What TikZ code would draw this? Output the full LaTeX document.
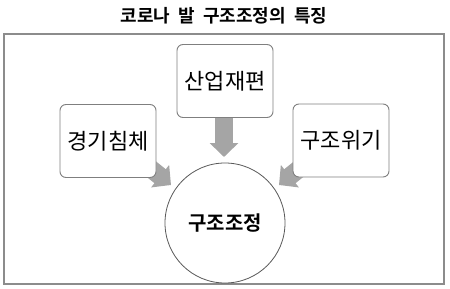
\documentclass[tikz,border=0pt]{standalone}
\usepackage{fontspec}
\setmainfont{Noto Sans CJK KR}[BoldFont={Noto Sans CJK KR Bold}]
\usetikzlibrary{arrows.meta}
\definecolor{boxgray}{HTML}{7F7F7F}
\definecolor{framegray}{HTML}{8C8C8C}
\definecolor{arrowgray}{HTML}{A5A5A5}
\definecolor{circlegray}{HTML}{595959}
\begin{document}
\begin{tikzpicture}[x=1pt,y=-1pt,
  box/.style={draw=boxgray, line width=0.9pt, rounded corners=6pt, fill=white,
    minimum width=96pt, minimum height=73pt, inner sep=0pt,
    font=\fontsize{22}{24}\selectfont},
  blockarrow/.style={draw=arrowgray, line width=18pt,
    -{Triangle[width=28pt,length=14pt]}},
  hub/.style={circle, draw=circlegray, line width=0.8pt, fill=white,
    minimum size=120pt, inner sep=0pt, font=\fontsize{20}{22}\selectfont\bfseries},
  frame/.style={draw=framegray, line width=1.1pt}
]
\useasboundingbox (0,0) rectangle (450,289);
\node[font=\fontsize{18}{20}\selectfont\bfseries] (title) at (224,16) {코로나\hspace{0.45em}발\hspace{0.45em}구조조정의\hspace{0.45em}특징};
\draw[frame] (4,34) rectangle (444,284);
% arrow anchor coordinates
\coordinate (ta) at (224,105);
\coordinate (tb) at (224,157);
\coordinate (la) at (140,160);
\coordinate (lb) at (171,185);
\coordinate (ra) at (310,160);
\coordinate (rb) at (279,185);
\draw[blockarrow] (ta) -- (tb);
\draw[blockarrow] (la) -- (lb);
\draw[blockarrow] (ra) -- (rb);
\node[box] (top) at (225,81) {산업재편};
\node[box] (left) at (108,141) {경기침체};
\node[box] (right) at (341,140.5) {구조위기};
\node[hub] (hubc) at (225,223) {구조조정};
\end{tikzpicture}
\end{document}
